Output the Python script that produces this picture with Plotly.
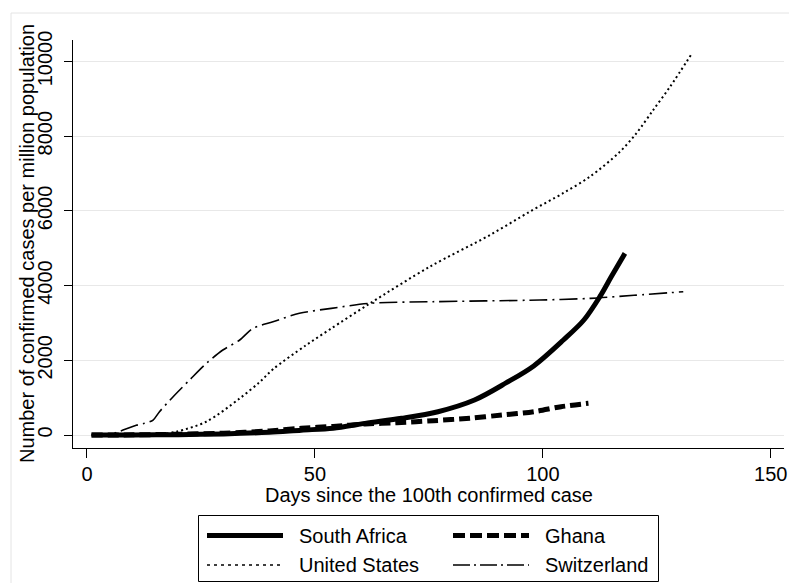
import plotly.graph_objects as go

# ---- data ----
sa_days = [1, 10, 20, 30, 40, 47, 54, 61, 69, 77, 85, 92, 98, 104.5, 109, 112.5, 115, 118]
sa_vals = [0, 3, 10, 30, 75, 130, 179, 312, 446, 624, 937, 1400, 1850, 2543, 3079, 3703, 4238, 4863]

gh_days = [1, 10, 20, 30, 40, 47, 54, 61, 68, 76, 84, 91, 98, 104, 110]
gh_vals = [0, 5, 20, 50, 110, 179, 230, 294, 330, 383, 450, 535, 624, 758, 848]

us_days = [1, 10, 15, 19.6, 26.2, 33.5, 37.9, 40.8, 48, 53.3, 62.1, 75.2, 88.4, 97.1, 104.5, 110.3, 116.9, 120.5, 124.2, 127.9, 132.8]
us_vals = [0, 2, 10, 90, 360, 980, 1420, 1760, 2400, 2830, 3526, 4506, 5354, 5978, 6480, 6915, 7584, 8076, 8700, 9324, 10234]

ch_days = [1, 5, 7.2, 10.8, 12.6, 14.5, 15.9, 18.9, 22.5, 26.2, 29.8, 33.5, 36.4, 40.8, 46.6, 53.6, 62, 75.9, 99.3, 110.5, 120, 130.8]
ch_vals = [0, 15, 100, 260, 312, 400, 624, 1026, 1472, 1919, 2275, 2543, 2856, 3033, 3258, 3391, 3526, 3569, 3614, 3659, 3740, 3836]

x_ticks = [0, 50, 100, 150]
y_ticks = [0, 2000, 4000, 6000, 8000, 10000]

legend_names = ["South Africa", "Ghana", "United States", "Switzerland"]
x_title = "Days since the 100th confirmed case"
y_title = "Number of confirmed cases per million population"

FONT = "Liberation Sans, Arial, sans-serif"

fig = go.Figure()
fig.add_trace(go.Scatter(x=ch_days, y=ch_vals, mode="lines", name="Switzerland",
                         line=dict(color="black", width=1.6, dash="18px,5px,2px,5px", shape="spline", smoothing=0.8),
                         showlegend=False))
fig.add_trace(go.Scatter(x=us_days, y=us_vals, mode="lines", name="United States",
                         line=dict(color="black", width=2, dash="2px,3px", shape="spline", smoothing=0.9),
                         showlegend=False))
fig.add_trace(go.Scatter(x=gh_days, y=gh_vals, mode="lines", name="Ghana",
                         line=dict(color="black", width=5, dash="11px,5px", shape="spline", smoothing=0.9),
                         showlegend=False))
fig.add_trace(go.Scatter(x=sa_days, y=sa_vals, mode="lines", name="South Africa",
                         line=dict(color="black", width=5, shape="spline", smoothing=0.9),
                         showlegend=False))

# page body has an 8px margin: work in reference-screen pixels and shift
OFF = 8
W, H = 797 - OFF, 583 - OFF
L, R, T, B = 73, 784, 40, 448          # plot area in reference-screen pixels
pw, ph = R - L, B - T

def px(xp):
    return (xp - L) / pw

def py(yp):
    return (B - yp) / ph

shapes = []
# outer light frame
shapes.append(dict(type="rect", xref="paper", yref="paper",
                   x0=px(11), x1=px(796), y0=py(13), y1=py(600),
                   line=dict(color="#e4e4e4", width=1), fillcolor="rgba(0,0,0,0)", layer="below"))
# legend box
shapes.append(dict(type="rect", xref="paper", yref="paper",
                   x0=px(198.5), x1=px(658.5), y0=py(515.5), y1=py(581.5),
                   line=dict(color="black", width=1), fillcolor="white"))

leg_styles = [
    dict(color="black", width=5, dash="solid"),
    dict(color="black", width=5, dash="12px,5px"),
    dict(color="black", width=1.5, dash="3px,4px"),
    dict(color="black", width=1.5, dash="17px,4px,2px,4px"),
]
leg_pos = [(207, 283, 297, 535.5), (453, 529, 543, 535.5),
           (207, 283, 297, 565), (453, 529, 543, 565)]
annotations = []
for name, st, (lx0, lx1, tx, ly) in zip(legend_names, leg_styles, leg_pos):
    shapes.append(dict(type="line", xref="paper", yref="paper",
                       x0=px(lx0), x1=px(lx1), y0=py(ly), y1=py(ly), line=st))
    annotations.append(dict(text=name, xref="paper", yref="paper", x=px(tx), y=py(ly),
                            xanchor="left", yanchor="middle", showarrow=False,
                            font=dict(family=FONT, size=20, color="black")))

# axis titles
annotations.append(dict(text=x_title, xref="paper", yref="paper", x=px(429), y=py(495),
                        xanchor="center", yanchor="middle", showarrow=False,
                        font=dict(family=FONT, size=20, color="black")))
annotations.append(dict(text=y_title, xref="paper", yref="paper", x=px(27), y=py(244),
                        xanchor="center", yanchor="middle", showarrow=False, textangle=-90,
                        font=dict(family=FONT, size=20, color="black")))

fig.update_layout(
    width=W, height=H,
    margin=dict(l=L - OFF, r=(797 - R), t=T - OFF, b=(583 - B), autoexpand=False),
    paper_bgcolor="white", plot_bgcolor="white",
    font=dict(family=FONT, color="black"),
    shapes=shapes, annotations=annotations,
    showlegend=False,
)
fig.update_xaxes(
    range=[-3.07, 152.9], tickvals=x_ticks, ticktext=[str(v) for v in x_ticks],
    showgrid=False, zeroline=False, showline=True, linecolor="black", linewidth=1,
    ticks="outside", ticklen=9, tickcolor="black", tickwidth=1, automargin=False,
    ticklabelstandoff=-1,
    tickfont=dict(family=FONT, size=20, color="black"),
)
fig.update_yaxes(
    range=[-348, 10576], tickvals=y_ticks, ticktext=[str(v) for v in y_ticks],
    showgrid=True, gridcolor="#e8e8e8", gridwidth=1.2, zeroline=False,
    showline=True, linecolor="black", linewidth=1, automargin=False,
    ticks="outside", ticklen=8, tickcolor="black", tickwidth=1, tickangle=-90,
    ticklabelstandoff=4,
    tickfont=dict(family=FONT, size=20, color="black"),
)

fig.write_html("out.html")
